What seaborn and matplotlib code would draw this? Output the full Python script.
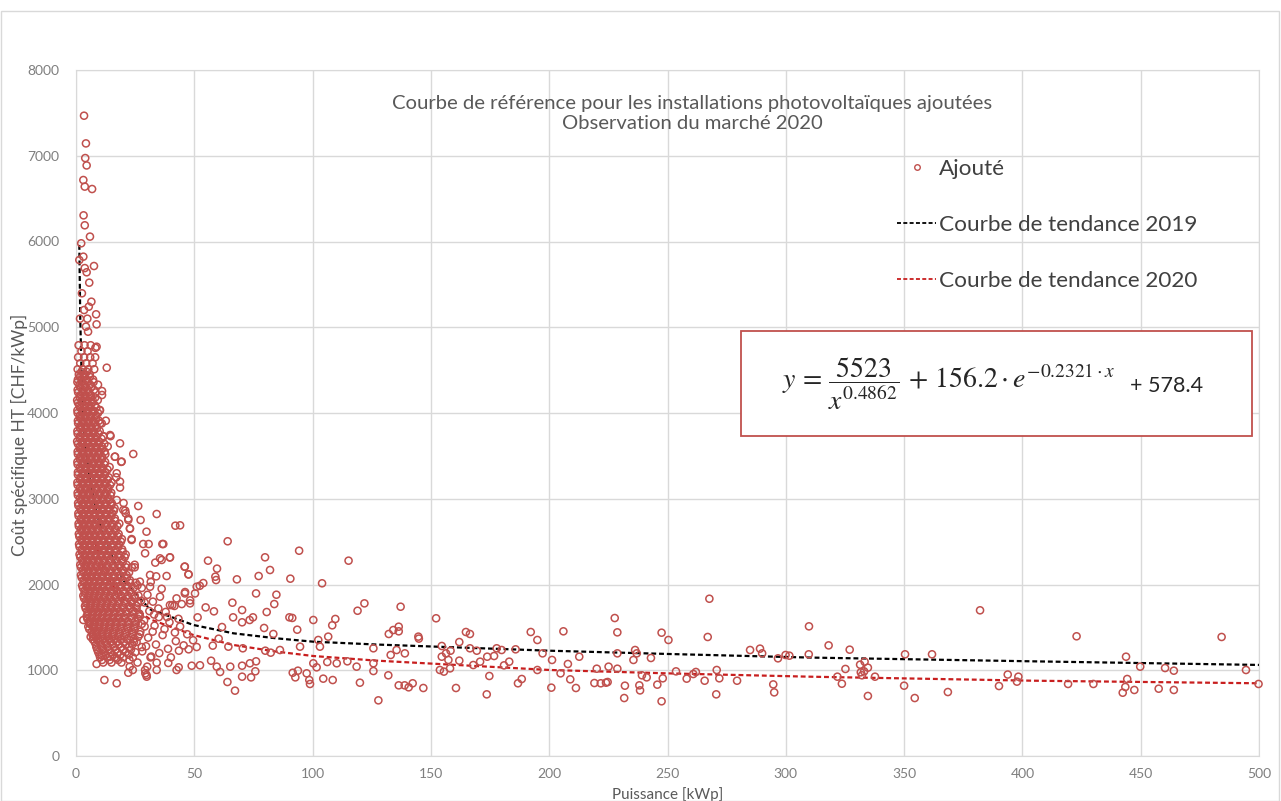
import matplotlib
matplotlib.use('Agg')
import matplotlib.pyplot as plt
from matplotlib.lines import Line2D
from matplotlib.patches import Rectangle
import seaborn as sns
import pandas as pd

# --- valeurs ---
# noyau dense (petites installations) : (y, [x...]) par rangée
core_rows = [
    (4790, [1.1, 3.6, 6.2]),
    (4720, [2.3, 4.9]),
    (4650, [0.9, 3.4, 6.0, 8.1]),
    (4580, [1.8, 4.3, 7.0]),
    (4510, [0.7, 2.9, 5.2, 7.7]),
    (4450, [1.2, 3.5, 5.8]),
    (4390, [0.8, 2.4, 4.6, 7.2]),
    (4330, [1.5, 3.7, 6.0, 9.3]),
    (4270, [0.7, 2.9, 5.1, 7.6]),
    (4210, [1.9, 4.0, 6.3, 11.0]),
    (4150, [0.5, 2.6, 4.8, 7.0, 9.2]),
    (4090, [1.4, 3.5, 5.7, 8.0]),
    (4030, [0.6, 2.7, 4.9, 7.2, 10.1]),
    (3970, [1.6, 3.8, 6.0, 8.4]),
    (3910, [0.8, 2.9, 5.2, 7.4, 9.7, 12.6]),
    (3850, [1.9, 4.1, 6.3, 8.6]),
    (3790, [0.6, 3.0, 5.3, 7.5, 10.0]),
    (3730, [1.7, 3.9, 6.2, 8.5, 11.5]),
    (3670, [0.5, 2.8, 5.0, 7.3, 9.6]),
    (3610, [1.6, 3.8, 6.1, 8.4, 10.9, 13.4]),
    (3550, [0.7, 2.9, 5.2, 7.5, 9.8, 12.1]),
    (3490, [1.8, 4.0, 6.3, 8.6, 11.0]),
    (3430, [0.6, 2.9, 5.1, 7.4, 9.8, 12.3]),
    (3370, [1.7, 3.9, 6.2, 8.5, 10.9, 14.2]),
    (3310, [0.8, 3.0, 5.3, 7.6, 10.0, 12.4]),
    (3250, [1.9, 4.1, 6.4, 8.7, 11.2, 13.8]),
    (3190, [0.6, 2.9, 5.2, 7.5, 9.9, 12.3, 15.0]),
    (3130, [1.7, 4.0, 6.3, 8.6, 11.0, 13.5]),
    (3070, [0.7, 3.0, 5.3, 7.6, 10.0, 12.4, 14.9]),
    (3010, [1.8, 4.1, 6.4, 8.7, 11.1, 13.6]),
    (2950, [0.9, 3.1, 5.4, 7.7, 10.1, 12.5, 15.1]),
    (2890, [1.9, 4.2, 6.5, 8.8, 11.2, 13.7, 16.3]),
    (2830, [1.0, 3.2, 5.5, 7.8, 10.2, 12.6, 15.2]),
    (2770, [2.1, 4.3, 6.6, 8.9, 11.3, 13.8, 16.4]),
    (2710, [1.1, 3.3, 5.6, 7.9, 10.3, 12.7, 15.3, 18.3]),
    (2650, [2.2, 4.4, 6.7, 9.0, 11.4, 13.9, 16.5]),
    (2590, [1.2, 3.4, 5.7, 8.0, 10.4, 12.8, 15.4, 18.0]),
    (2530, [2.3, 4.5, 6.8, 9.1, 11.5, 14.0, 16.6, 19.4]),
    (2470, [1.3, 3.5, 5.8, 8.1, 10.5, 12.9, 15.5, 18.1]),
    (2410, [2.4, 4.6, 6.9, 9.2, 11.6, 14.1, 16.7, 19.5]),
    (2350, [1.5, 3.7, 6.0, 8.3, 10.7, 13.1, 15.6, 18.2, 21.0]),
    (2290, [2.6, 4.8, 7.1, 9.4, 11.8, 14.2, 16.8, 19.6]),
    (2230, [1.8, 4.0, 6.2, 8.5, 10.9, 13.3, 15.8, 18.4, 21.3]),
    (2170, [2.9, 5.1, 7.3, 9.6, 12.0, 14.4, 17.0, 19.8]),
    (2110, [2.1, 4.3, 6.5, 8.8, 11.1, 13.5, 16.0, 18.6, 21.4]),
    (2050, [3.2, 5.4, 7.6, 9.9, 12.2, 14.6, 17.2, 19.9, 22.8]),
    (1990, [2.6, 4.7, 6.9, 9.1, 11.4, 13.8, 16.2, 18.8, 21.6]),
    (1930, [3.6, 5.8, 8.0, 10.2, 12.5, 14.9, 17.4, 20.1, 23.0]),
    (1870, [3.1, 5.2, 7.4, 9.6, 11.9, 14.2, 16.6, 19.2, 22.0, 24.8]),
    (1810, [4.1, 6.3, 8.5, 10.7, 13.0, 15.4, 17.9, 20.5, 23.3]),
    (1750, [3.8, 5.9, 8.0, 10.2, 12.5, 14.8, 17.2, 19.8, 22.6, 25.5]),
    (1690, [4.8, 6.9, 9.1, 11.3, 13.6, 16.0, 18.5, 21.1, 24.0]),
    (1630, [4.5, 6.6, 8.7, 10.9, 13.2, 15.5, 17.9, 20.5, 23.3, 27.0]),
    (1570, [5.6, 7.7, 9.8, 12.1, 14.4, 16.8, 19.3, 22.0, 25.0]),
    (1510, [5.2, 7.3, 9.5, 11.7, 14.0, 16.4, 18.9, 21.6, 24.6, 29.0]),
    (1450, [6.6, 8.8, 11.0, 13.3, 15.7, 18.2, 20.9, 23.8]),
    (1390, [6.2, 8.3, 10.6, 12.9, 15.3, 17.8, 20.4, 23.2, 26.3]),
    (1330, [7.9, 10.1, 12.5, 14.9, 17.5, 20.2, 24.5]),
    (1270, [8.6, 11.0, 13.5, 16.2, 19.0, 22.5, 27.8]),
    (1210, [9.4, 12.0, 14.7, 17.6, 21.0, 25.1]),
    (1150, [10.2, 13.2, 16.4, 20.0, 24.0, 31.5]),
    (1090, [11.5, 15.0, 19.2, 26.0]),
]
# rangées intercalées du noyau
core_rows_b = [
    (4480, [2.3, 4.6]),
    (4420, [1.6, 3.5, 5.9]),
    (4360, [0.6, 2.6, 4.9, 7.4]),
    (4300, [1.8, 4.0, 6.4]),
    (4240, [0.9, 3.0, 5.3, 8.2]),
    (4180, [1.6, 3.7, 5.9, 8.1]),
    (4120, [0.8, 2.5, 4.6, 6.8]),
    (4060, [1.8, 3.9, 6.1, 8.6]),
    (4000, [0.7, 2.7, 4.9, 7.1, 9.3]),
    (3940, [1.8, 4.0, 6.3, 8.5]),
    (3880, [0.9, 3.0, 5.2, 7.5, 10.2]),
    (3820, [1.8, 4.1, 6.4, 8.8]),
    (3760, [0.7, 2.8, 5.0, 7.3, 9.5]),
    (3700, [1.6, 3.9, 6.1, 8.4, 10.8]),
    (3640, [0.8, 2.7, 5.0, 7.2, 9.6, 12.0]),
    (3580, [1.8, 4.0, 6.3, 8.6, 11.0]),
    (3520, [0.8, 2.9, 5.1, 7.4, 9.8, 12.4]),
    (3460, [1.7, 4.0, 6.3, 8.6, 10.9]),
    (3400, [0.7, 2.8, 5.0, 7.3, 9.7, 12.0]),
    (3340, [1.9, 4.1, 6.4, 8.7, 11.1, 13.3]),
    (3280, [0.8, 3.0, 5.2, 7.5, 9.9, 12.2]),
    (3220, [1.8, 4.0, 6.3, 8.6, 11.0, 13.4]),
    (3160, [0.7, 2.9, 5.1, 7.4, 9.8, 12.2, 14.4]),
    (3100, [1.9, 4.1, 6.4, 8.7, 11.2, 13.6]),
    (3040, [0.8, 3.0, 5.2, 7.5, 9.9, 12.3, 14.6]),
    (2980, [2.0, 4.2, 6.5, 8.9, 11.3, 13.8]),
    (2920, [1.0, 3.1, 5.3, 7.6, 10.0, 12.4, 14.9]),
    (2860, [2.1, 4.3, 6.6, 9.0, 11.4, 13.9, 16.0]),
    (2800, [1.1, 3.2, 5.4, 7.7, 10.1, 12.5, 15.0]),
    (2740, [2.2, 4.4, 6.7, 9.1, 11.5, 14.0, 16.6]),
    (2680, [1.2, 3.3, 5.5, 7.8, 10.2, 12.6, 15.1, 17.5]),
    (2620, [2.3, 4.5, 6.8, 9.2, 11.6, 14.1, 16.7]),
    (2560, [1.4, 3.4, 5.6, 7.9, 10.3, 12.7, 15.2, 17.8]),
    (2500, [2.4, 4.6, 6.9, 9.3, 11.7, 14.2, 16.8, 19.0]),
    (2440, [1.5, 3.6, 5.8, 8.1, 10.4, 12.8, 15.3, 17.9]),
    (2380, [2.5, 4.7, 7.0, 9.4, 11.8, 14.3, 16.9, 19.7]),
    (2320, [1.8, 3.8, 6.0, 8.3, 10.6, 13.0, 15.5, 18.0, 20.6]),
    (2260, [2.8, 4.9, 7.2, 9.5, 11.9, 14.4, 17.0, 19.7]),
    (2200, [2.1, 4.1, 6.3, 8.6, 10.9, 13.3, 15.8, 18.4, 21.1, 23.6]),
    (2140, [3.1, 5.2, 7.4, 9.7, 12.1, 14.5, 17.1, 19.8, 22.4]),
    (2080, [2.4, 4.5, 6.6, 8.9, 11.2, 13.6, 16.1, 18.7, 21.5]),
    (2020, [3.4, 5.5, 7.7, 10.0, 12.3, 14.7, 17.3, 20.0, 22.9, 25.2]),
    (1960, [2.9, 4.9, 7.0, 9.2, 11.5, 13.9, 16.3, 18.9, 21.7, 24.3]),
    (1900, [3.8, 5.9, 8.1, 10.4, 12.7, 15.1, 17.6, 20.3, 23.1]),
    (1840, [3.4, 5.4, 7.5, 9.7, 12.0, 14.3, 16.8, 19.4, 22.1, 24.9]),
    (1780, [4.3, 6.4, 8.6, 10.9, 13.2, 15.6, 18.1, 20.7, 23.5, 26.3]),
    (1720, [4.1, 6.1, 8.2, 10.4, 12.7, 15.0, 17.4, 20.0, 22.8, 25.6]),
    (1660, [5.0, 7.1, 9.3, 11.5, 13.8, 16.2, 18.7, 21.3, 24.2, 26.8]),
    (1600, [4.8, 6.8, 8.9, 11.1, 13.4, 15.7, 18.1, 20.7, 23.5, 26.2]),
    (1540, [5.8, 7.9, 10.0, 12.3, 14.6, 17.0, 19.5, 22.2, 25.2, 27.8]),
    (1480, [5.6, 7.6, 9.7, 11.9, 14.2, 16.6, 19.1, 21.8, 24.8]),
    (1420, [6.9, 9.0, 11.2, 13.5, 15.9, 18.4, 21.1, 24.0, 27.0]),
    (1360, [7.1, 9.2, 11.5, 13.9, 16.3, 18.9, 21.6, 24.3]),
    (1300, [8.4, 10.6, 13.0, 15.5, 18.1, 21.0, 23.8]),
    (1240, [9.0, 11.4, 13.9, 16.7, 19.8, 23.2]),
    (1180, [9.9, 12.6, 15.5, 18.7, 22.3]),
    (1120, [11.0, 14.2, 17.8, 22.6]),
]

# points isolés autour du noyau
near_x = [3.4, 4.2, 3.9, 4.5, 3.1, 3.7, 6.8, 3.2, 3.7, 5.9, 2.2, 1.4, 3.1, 7.6, 4.5, 3.7,
          5.6, 2.5, 6.5, 3.4, 5.4, 8.5, 8.7, 4.8, 1.7, 4.2, 5.1, 8.7, 8.2, 13.0, 11.0,
          10.9, 14.4, 18.6, 11.7, 10.1, 24.2, 16.5, 19.3, 17.2, 18.6, 17.2, 26.3, 20.0,
          20.8, 34.1, 27.3, 22.1, 22.8, 29.8, 42.0, 44.0, 36.9, 30.7, 28.4, 23.5, 29.2,
          35.5, 39.7, 33.5, 46.0, 31.3, 38.3, 33.9, 47.5, 24.8, 27.0, 31.3, 35.5, 46.0,
          42.5, 48.2, 39.7, 41.6, 51.0, 27.8, 30.2, 32.5, 34.8, 29.0, 31.6, 36.2, 33.0,
          38.5, 26.4, 26.5, 28.8, 31.0, 33.2, 35.0, 37.4, 39.5, 41.8, 44.0, 27.2, 30.5,
          33.8, 36.6, 38.9, 42.2, 45.5, 28.0, 31.8, 35.2, 40.1, 47.0, 25.6, 29.6, 32.4,
          37.9, 43.3, 49.5, 12.0, 17.2, 8.7, 22.1, 24.0, 29.3, 29.9, 30.1, 34.1, 7.3,
          10.9, 14.4, 17.2, 22.7, 29.2, 29.8, 34.1, 42.5, 3.1, 5.9, 14.6, 16.4, 19.1,
          17.0, 18.6, 20.1, 21.0, 22.1, 22.8, 23.5, 24.8, 26.0, 27.5]
near_y = [7467, 7144, 6973, 6887, 6717, 6640, 6612, 6305, 6189, 6057, 5979, 5784, 5823, 5714,
          5641, 5690, 5520, 5396, 5298, 5201, 5240, 5151, 5034, 5100, 5100, 5007, 4948, 4773,
          4760, 4528, 4256, 3879, 3743, 3646, 3726, 4035, 3522, 3491, 3433, 3297, 3200, 2985,
          2915, 2869, 2862, 2822, 2752, 2752, 2655, 2616, 2686, 2690, 2472, 2472, 2472, 2519,
          2364, 2305, 2317, 2255, 2209, 2111, 2099, 2095, 2118, 2200, 2033, 1974, 1858, 1896,
          1838, 1780, 1760, 1750, 1974, 1960, 1880, 1800, 1720, 1790, 2030, 1950, 1650, 1620,
          1870, 1650, 1580, 1690, 1520, 1620, 1480, 1560, 1440, 1510, 1450, 1380, 1300, 1410,
          1250, 1340, 1290, 1220, 1160, 1200, 1150, 1420, 1330, 1280, 1450, 1680, 1600, 1350,
          886, 848, 1073, 971, 1003, 964, 925, 1042, 1088, 1392, 1174, 1158, 1139, 1042, 1003,
          945, 1003, 1003, 1586, 1547, 3730, 3490, 3430, 3250, 3130, 2950, 2830, 2770, 2650,
          2530, 2230, 1990, 1810]

# installations moyennes et grandes
mid_x = [64.1, 55.8, 59.6, 58.9, 59.2, 45.9, 47.6, 39.7, 36.5, 36.2, 68.0, 77.2, 79.9, 82.0,
         94.3, 90.6, 104.0, 115.2, 50.3, 52.3, 53.8, 46.1, 48.2, 44.7, 40.7, 76.1, 84.7, 83.8,
         66.1, 70.2, 54.8, 58.3, 51.4, 66.4, 74.8, 80.6, 90.2, 91.4, 100.3, 109.6, 108.3,
         121.9, 119.0, 93.5, 83.4, 79.5, 73.4, 70.2, 61.7, 60.3, 57.8, 51.0, 47.6, 43.5, 52.4,
         48.9, 43.4, 39.0, 57.1, 59.5, 60.9, 65.2, 70.2, 73.5, 76.1, 75.8, 70.2, 74.0, 64.0,
         67.2, 80.0, 82.3, 86.2, 91.6, 93.8, 92.7, 97.5, 98.6, 100.3, 101.7, 98.9, 104.5,
         108.5, 106.2, 110.2, 114.7, 118.6, 120.0, 125.7, 102.4, 106.6, 103.1, 94.7, 64.4,
         70.5, 125.7]
mid_y = [2504, 2278, 2185, 2091, 2052, 2207, 2118, 2315, 2472, 2286, 2060, 2099, 2317, 2169,
         2394, 2068, 2014, 2278, 1896, 1985, 2017, 1912, 1815, 1772, 1760, 1896, 1881, 1772,
         1788, 1702, 1733, 1687, 1617, 1617, 1617, 1679, 1617, 1610, 1586, 1598, 1524, 1780,
         1694, 1473, 1423, 1493, 1586, 1559, 1504, 1368, 1287, 1271, 1244, 1228, 1058, 1053,
         1034, 1085, 1111, 1042, 980, 1042, 1053, 1081, 1104, 988, 925, 917, 863, 762, 1228,
         1205, 1236, 971, 995, 917, 964, 886, 1081, 1034, 840, 902, 886, 1096, 1081, 1104,
         1042, 855, 1081, 1353, 1392, 1275, 1275, 1275, 1256, 1256]

far_x = [137.2, 136.4, 134.1, 132.2, 136.4, 135.5, 133.0, 139.0, 125.7, 132.0, 127.8, 136.4,
         138.9, 140.6, 142.3, 146.8, 144.7, 144.9, 152.2, 154.6, 154.6, 156.4, 158.3, 157.4,
         153.8, 155.5, 158.1, 160.6, 162.0, 164.8, 166.5, 166.5, 169.4, 162.0, 167.9, 170.8,
         174.7, 173.6, 173.8, 176.7, 177.8, 179.9, 180.9, 183.1, 185.8, 188.4, 186.8, 192.2,
         195.0, 197.2, 195.0, 201.2, 200.9, 204.8, 206.0, 207.9, 208.9, 211.3, 212.7, 219.1,
         220.1, 221.8, 224.0, 224.7, 225.1, 227.7, 228.8, 228.8, 228.8, 231.7, 232.0, 235.6,
         236.3, 237.0, 238.1, 238.4, 239.2, 241.2, 243.0, 245.7, 247.5, 248.0, 247.5, 250.4,
         253.6, 258.1, 260.9, 262.0, 265.7, 267.0, 267.7, 270.8, 270.6, 271.9, 279.4, 284.9,
         289.1, 290.0, 294.7, 295.1, 296.7, 299.9, 301.5, 309.8, 309.7, 318.1, 327.0, 325.2,
         321.8, 323.7, 331.4, 333.3, 334.7, 331.7, 333.1, 332.2, 337.7, 334.7, 350.0, 350.4,
         354.5, 361.8, 368.5, 382.1, 390.1, 393.8, 397.7, 398.3, 419.3, 422.9, 430.0, 442.4,
         443.5, 444.3, 443.8, 447.3, 449.8, 457.6, 460.3, 464.0, 464.0, 484.2, 494.5, 499.8]
far_y = [1741, 1508, 1469, 1423, 1454, 1236, 1178, 1197, 991, 941, 649, 824, 824, 801, 848,
         793, 1392, 1369, 1606, 1283, 1158, 1197, 1228, 1120, 1003, 984, 1022, 793, 1329, 1446,
         1423, 1256, 1228, 1112, 1061, 1100, 933, 719, 1158, 1166, 1256, 1236, 1057, 1100, 1244,
         898, 848, 1446, 1353, 1197, 1003, 1120, 797, 964, 1454, 1073, 894, 793, 1158, 851,
         1018, 848, 855, 863, 1042, 1609, 1442, 1197, 1018, 676, 820, 1120, 1236, 1197, 824,
         765, 941, 917, 1143, 832, 638, 906, 1438, 1353, 987, 902, 956, 980, 878, 1388, 1834,
         1003, 719, 906, 878, 1236, 1252, 1197, 835, 742, 1139, 1178, 1170, 1512, 1186, 1290,
         1240, 1015, 925, 843, 1065, 1100, 1030, 976, 987, 941, 925, 700, 820, 1186, 676, 1186,
         746, 1699, 816, 950, 867, 925, 840, 1396, 840, 738, 805, 898, 1158, 770, 1042, 785,
         1026, 995, 770, 1388, 1003, 840]

# courbes de tendance
trend19_x = [1.4, 1.8, 2.4, 3.5, 6, 9, 14, 20, 31.3, 49.6, 66.5, 84.8, 100.3, 127, 200, 250, 310, 404.5, 500]
trend19_y = [5960, 5100, 4400, 3700, 3200, 2800, 2400, 2050, 1711, 1528, 1431, 1372, 1333, 1300, 1228, 1190, 1148, 1104, 1062]
trend20_x = [8, 12, 18, 24, 31.3, 49.6, 66.5, 84.8, 100.3, 127.1, 200.3, 249.7, 310, 404.5, 500]
trend20_y = [2500, 2150, 1880, 1740, 1594, 1411, 1295, 1217, 1166, 1112, 1003, 964, 925, 878, 848]

# --- table des points ---
pts_x, pts_y = [], []
for yy, xs in core_rows + core_rows_b:
    pts_x += xs
    pts_y += [yy] * len(xs)
pts_x += near_x + mid_x + far_x
pts_y += near_y + mid_y + far_y
df = pd.DataFrame({'puissance': pts_x, 'cout': pts_y})

sns.set_style('white')
plt.rcParams['font.family'] = ['Lato', 'DejaVu Sans']
plt.rcParams['mathtext.fontset'] = 'stix'

red = '#c0504d'
grey_txt = '#7f7f7f'
grid_c = '#d9d9d9'
dash = (0, (2.2, 1.3))

fig = plt.figure(figsize=(12.81, 8.01), dpi=100)
ax = fig.add_axes([76 / 1281, 1 - 756 / 801, (1259 - 76) / 1281, (756 - 70) / 801])

sns.lineplot(x=trend19_x, y=trend19_y, ax=ax, color='black', lw=1.6, linestyle=dash, zorder=2)
sns.lineplot(x=trend20_x, y=trend20_y, ax=ax, color='#c81e1e', lw=1.6, linestyle=dash, zorder=2)
sns.scatterplot(data=df, x='puissance', y='cout', ax=ax, marker='o', s=26,
                facecolor='none', edgecolor=red, linewidth=1.1, legend=False,
                zorder=3, clip_on=False)

ax.set_xlim(0, 500)
ax.set_ylim(0, 8000)
ax.set_xticks(range(0, 501, 50))
ax.set_yticks(range(0, 8001, 1000))
ax.grid(True, color=grid_c, lw=1)
for s in ax.spines.values():
    s.set_color(grid_c)
ax.tick_params(length=0, labelsize=10, labelcolor=grey_txt)
ax.tick_params(axis='y', pad=12)
ax.tick_params(axis='x', pad=9)
ax.set_xlabel('Puissance [kWp]', fontsize=11, color='#595959', labelpad=5)
ax.set_ylabel('Coût spécifique HT [CHF/kWp]', fontsize=12.5, color='#595959')
ax.yaxis.set_label_coords(-(76 - 28) / 1183, 0.468)

ax.text(0.5207, 0.937, 'Courbe de référence pour les installations photovoltaïques ajoutées\n'
        'Observation du marché 2020', transform=ax.transAxes, ha='center', va='center',
        multialignment='center', fontsize=14.6, color='#595959', linespacing=1.2)

handles = [
    Line2D([], [], ls='none', marker='o', ms=4, mfc='none', mec=red, mew=1),
    Line2D([], [], color='black', lw=1.3, ls=dash),
    Line2D([], [], color='#c81e1e', lw=1.3, ls=dash),
]
labels = ['Ajouté', 'Courbe de tendance 2019', 'Courbe de tendance 2020']
ax.legend(handles, labels, loc='upper left', bbox_to_anchor=(0.694, 0.870),
          frameon=False, fontsize=16.2, labelcolor='#404040', handlelength=1.75,
          handletextpad=0.1, labelspacing=1.6, borderpad=0, borderaxespad=0)

# encadré de l'équation
fig.patches.append(Rectangle((741 / 1281, 1 - 436 / 801), 511 / 1281, 105 / 801,
                             transform=fig.transFigure, fill=True, fc='white',
                             ec='#c0504d', lw=1.3, zorder=5))
fig.text(782 / 1281, 1 - 384 / 801,
         r'$y\,=\,\dfrac{5523}{x^{0.4862}}\,+\,156.2\cdot e^{-0.2321\cdot x}$',
         fontsize=20, va='center', ha='left', zorder=6)
fig.text(1130 / 1281, 1 - 386 / 801, '+ 578.4', fontsize=15.5, va='center',
         ha='left', zorder=6)

# cadre extérieur du graphique
fig.patches.append(Rectangle((1 / 1281, 0), 1278 / 1281, 1 - 11 / 801,
                             transform=fig.transFigure, fill=False, ec=grid_c, lw=1))

fig.savefig('out.png', dpi=100, facecolor='white')
